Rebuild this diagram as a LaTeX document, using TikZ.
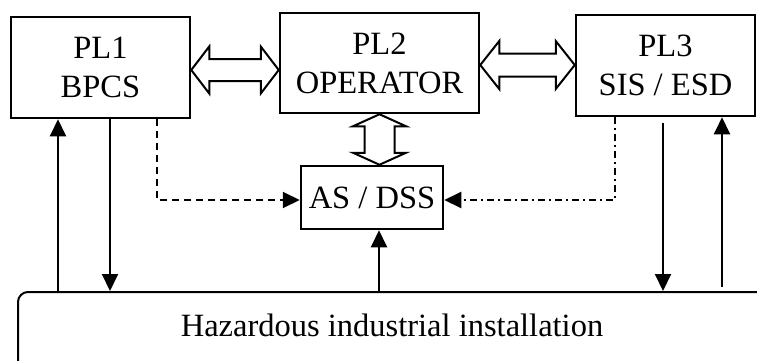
\documentclass[tikz,border=0pt]{standalone}
\usepackage{fontspec}
\setmainfont{Liberation Serif}
\usetikzlibrary{arrows.meta,calc}

\tikzset{
  plbox/.style={draw, line width=2.5pt, align=center, inner sep=0pt,
    font=\fontsize{32.5}{39}\selectfont},
  hollow/.style={draw, line width=2pt, line join=miter},
  sig/.style={line width=2pt, -{Triangle[length=17pt,width=16pt]}},
  sigdash/.style={sig, dash pattern=on 7pt off 5pt},
  sigdashdot/.style={sig, dash pattern=on 7pt off 4pt on 2pt off 4pt}
}
% #1,#2 tips, #3 head length, #4 half head, #5 half shaft
\newcommand{\hollowh}[5]{\draw[hollow] (#1) -- ($(#1)+(#3,-#4)$) -- ($(#1)+(#3,-#5)$)
  -- ($(#2)+(-#3,-#5)$) -- ($(#2)+(-#3,-#4)$) -- (#2) -- ($(#2)+(-#3,#4)$)
  -- ($(#2)+(-#3,#5)$) -- ($(#1)+(#3,#5)$) -- ($(#1)+(#3,#4)$) -- cycle;}
\newcommand{\hollowv}[5]{\draw[hollow] (#1) -- ($(#1)+(-#4,#3)$) -- ($(#1)+(-#5,#3)$)
  -- ($(#2)+(-#5,-#3)$) -- ($(#2)+(-#4,-#3)$) -- (#2) -- ($(#2)+(#4,-#3)$)
  -- ($(#2)+(#5,-#3)$) -- ($(#1)+(#5,#3)$) -- ($(#1)+(#4,#3)$) -- cycle;}

\begin{document}
\begin{tikzpicture}[x=1pt,y=-1pt]
\clip (0,0) rectangle (757,360);

\node[plbox, minimum width=179pt, minimum height=101pt] (pl1) at (100.5,67.5) {PL1\\BPCS};
\node[plbox, minimum width=199pt, minimum height=100pt] (pl2) at (379.5,63) {PL2\\OPERATOR};
\node[plbox, minimum width=179pt, minimum height=101pt] (pl3) at (665.5,65.5) {PL3\\SIS / ESD};
\node[plbox, minimum width=142pt, minimum height=63pt] (asdss) at (372,197.5) {AS / DSS};
\node[draw, line width=2pt, rounded corners=10pt, anchor=north west,
  minimum width=800pt, minimum height=100pt] (plant) at (17,291) {};
\node[font=\fontsize{32.5}{39}\selectfont] (plantlabel) at (392,325) {Hazardous industrial installation};

\coordinate (l1) at ([yshift=-2.5pt]pl1.east);
\coordinate (l2) at (pl2.west |- l1);
\coordinate (r1) at ([yshift=-2pt]pl2.east);
\coordinate (r2) at (pl3.west |- r1);
\coordinate (v1) at (pl2.south);
\coordinate (v2) at (asdss.north -| v1);
\hollowh{l1}{l2}{18}{23.5}{11}
\hollowh{r1}{r2}{19}{24}{11.5}
\hollowv{v1}{v2}{12}{26.5}{15}

\coordinate (pl1up) at ([xshift=-42.5pt]pl1.south);
\coordinate (pl1down) at ([xshift=9.5pt]pl1.south);
\coordinate (pl1dash) at ([xshift=56.5pt]pl1.south);
\coordinate (pl3down) at ([xshift=-2.5pt]pl3.south);
\coordinate (pl3up) at ([xshift=56.5pt]pl3.south);
\coordinate (pl3dash) at ([xshift=-50.5pt]pl3.south);
\coordinate (asup) at ([xshift=7pt]asdss.south);

\draw[sig] (pl1up |- plant.north) -- (pl1up);
\draw[sig] (pl1down) -- (pl1down |- plant.north);
\draw[sig, shorten <=6pt] (pl3down) -- (pl3down |- plant.north);
\draw[sig, shorten <=4pt] (pl3up |- plant.north) -- (pl3up);
\draw[sig] (asup |- plant.north) -- (asup);
\draw[sigdash] (pl1dash) |- ([yshift=-2.5pt]asdss.west);
\draw[sigdashdot] (pl3dash) |- ([yshift=-2.5pt]asdss.east);
\end{tikzpicture}
\end{document}
